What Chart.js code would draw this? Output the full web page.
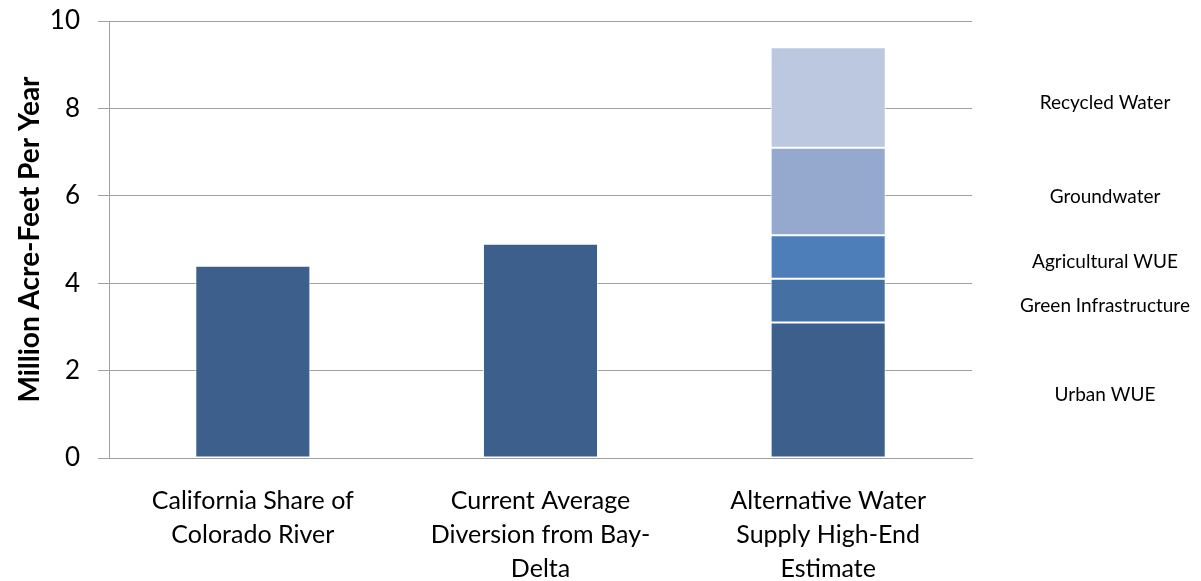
<!DOCTYPE html>
<html>
<head>
<meta charset="utf-8">
<script src="https://cdn.jsdelivr.net/npm/chart.js@4"></script>
<style>
  html, body { margin: 0; padding: 0; background: #fff; }
  #wrap { width: 1201px; height: 581px; }
</style>
</head>
<body>
<div id="wrap"><canvas id="waterChart"></canvas></div>
<script>
const categories = [
    ['California Share of', 'Colorado River'],
    ['Current Average', 'Diversion from Bay-', 'Delta'],
    ['Alternative Water', 'Supply High-End', 'Estimate']
];
const totals = [4.4, 4.9, null];
const urbanWUE = [null, null, 3.1];
const greenInfra = [null, null, 1.0];
const agWUE = [null, null, 1.0];
const groundwater = [null, null, 2.0];
const recycled = [null, null, 2.3];
const yTicks = [0, 2, 4, 6, 8, 10];

const font = "Lato, 'Open Sans', sans-serif";

const segmentLabels = {
    id: 'segmentLabels',
    afterDatasetsDraw(chart) {
        const ctx = chart.ctx;
        const y = chart.scales.y;
        const x = chart.chartArea.right + 133;
        let base = 0;
        ctx.save();
        ctx.font = '19px ' + font;
        ctx.fillStyle = '#000';
        ctx.textAlign = 'center';
        ctx.textBaseline = 'middle';
        chart.data.datasets.forEach(ds => {
            const v = ds.data[2];
            if (v == null) return;
            const mid = y.getPixelForValue(base + v / 2);
            ctx.fillText(ds.label, x, mid + 5);
            base += v;
        });
        ctx.restore();
    }
};

const ctx = document.getElementById('waterChart').getContext('2d');
new Chart(ctx, {
    type: 'bar',
    data: {
        labels: categories,
        datasets: [
            { label: 'Total', data: totals, backgroundColor: '#3C5F8C' },
            { label: 'Urban WUE', data: urbanWUE, backgroundColor: '#3C5F8C' },
            { label: 'Green Infrastructure', data: greenInfra, backgroundColor: '#4470A4' },
            { label: 'Agricultural WUE', data: agWUE, backgroundColor: '#4D7EBA' },
            { label: 'Groundwater', data: groundwater, backgroundColor: '#95A9CF' },
            { label: 'Recycled Water', data: recycled, backgroundColor: '#BBC8E0' }
        ].map(ds => Object.assign(ds, {
            borderColor: 'rgba(255,255,255,0.85)',
            borderWidth: 1,
            borderSkipped: false,
            categoryPercentage: 1,
            barPercentage: 0.4
        }))
    },
    options: {
        responsive: true,
        maintainAspectRatio: false,
        animation: false,
        layout: { padding: { top: 21, right: 229, bottom: 0, left: 0 } },
        plugins: {
            legend: { display: false },
            tooltip: { enabled: false }
        },
        scales: {
            x: {
                stacked: true,
                grid: { display: false, drawTicks: false },
                border: { color: '#A0A0A0', width: 1 },
                ticks: {
                    color: '#000',
                    padding: 26,
                    maxRotation: 0,
                    font: { family: font, size: 25, lineHeight: '34px' }
                },
                afterFit(scale) {
                    scale.height = 123;
                    scale.paddingLeft = 0;
                    scale.paddingRight = 0;
                }
            },
            y: {
                stacked: true,
                min: 0,
                max: 10,
                afterBuildTicks(scale) { scale.ticks = yTicks.map(v => ({ value: v })); },
                grid: { color: '#A0A0A0', tickLength: 11 },
                border: { color: '#A0A0A0', width: 1 },
                ticks: {
                    color: '#000',
                    padding: 18,
                    font: { family: font, size: 26 }
                },
                title: {
                    display: true,
                    text: 'Million Acre-Feet Per Year',
                    color: '#000',
                    font: { family: font, size: 28, weight: 'bold' },
                    padding: { top: 13, bottom: 0 }
                },
                afterFit(scale) {
                    scale.width = 109;
                    scale.paddingTop = 0;
                    scale.paddingBottom = 0;
                }
            }
        }
    },
    plugins: [segmentLabels]
});
</script>
</body>
</html>
